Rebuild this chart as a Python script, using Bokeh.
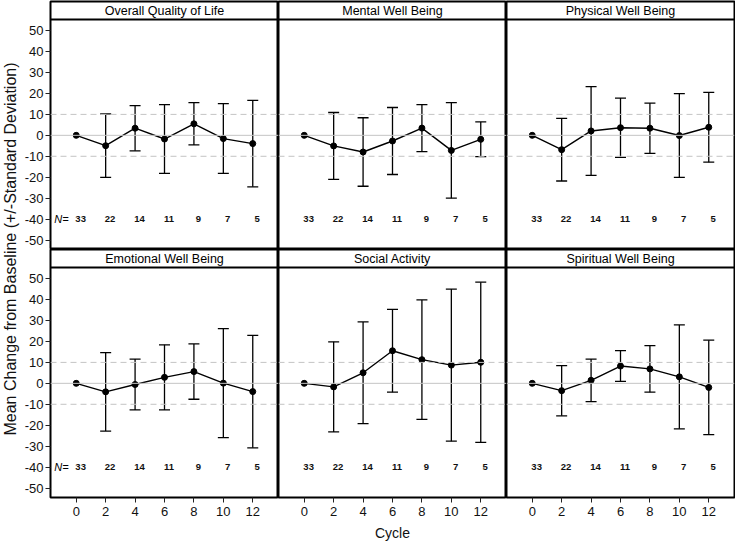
import math
from bokeh.plotting import figure
from bokeh.layouts import row, column
from bokeh.models import Range1d, FixedTicker, Span, Whisker, TeeHead, ColumnDataSource, Label
from bokeh.core.properties import value
from bokeh.embed import file_html
from bokeh.resources import INLINE

# ---------------- data ----------------
cycles = [0, 2, 4, 6, 8, 10, 12]
n_patients = [33, 22, 14, 11, 9, 7, 5]
y_ticks = [-50, -40, -30, -20, -10, 0, 10, 20, 30, 40, 50]
y_tick_labels = ["-50", "-40", "-30", "-20", "-10", "0", "10", "20", "30", "40", "50"]

panel_titles = ["Overall Quality of Life", "Mental Well Being", "Physical Well Being",
                "Emotional Well Being", "Social Activity", "Spiritual Well Being"]

overall_mean = [0, -4.95, 3.4, -1.75, 5.5, -1.55, -3.95]
overall_sd = [0, 15.15, 10.8, 16.45, 10.1, 16.65, 20.65]

mental_mean = [0, -5.05, -7.95, -2.7, 3.45, -7.2, -1.9]
mental_sd = [0, 15.95, 16.35, 16.0, 11.25, 22.8, 8.3]

physical_mean = [0, -6.85, 2.1, 3.65, 3.4, -0.1, 3.85]
physical_sd = [0, 14.95, 21.2, 14.15, 12.0, 20.0, 16.65]

emotional_mean = [0, -4.05, -0.55, 2.85, 5.6, 0.1, -3.95]
emotional_sd = [0, 18.75, 12.15, 15.55, 13.2, 26.0, 26.85]

social_mean = [0, -1.7, 5.05, 15.55, 11.3, 8.7, 10.05]
social_sd = [0, 21.5, 24.25, 19.75, 28.5, 36.3, 38.25]

spiritual_mean = [0, -3.5, 1.45, 8.25, 6.9, 3.1, -1.95]
spiritual_sd = [0, 12.0, 10.15, 7.35, 11.1, 24.8, 22.55]

panel_means = [overall_mean, mental_mean, physical_mean, emotional_mean, social_mean, spiritual_mean]
panel_sds = [overall_sd, mental_sd, physical_sd, emotional_sd, social_sd, spiritual_sd]

# ---------------- layout / style ----------------
FONT = "Liberation Sans"
X0, X1 = -1.75, 13.75
Y_BOT, Y_TOP = -54.5, 55.3
PLOT_H = 230
HDR_H = 18
FRAME_W = 228
UNIT = (Y_TOP - Y_BOT) / PLOT_H
Y_END = Y_TOP + HDR_H * UNIT
N_ROW_Y = -40
N_DX = 0.3
N_LABEL_X = -1.0
REF_COLOR = "#c4c4c4"
LABEL_W = 20
LEFT_B = 30
BOTTOM_B = 46


def make_panel(idx):
    col = idx % 3
    rw = idx // 3
    left = col == 0
    bottom = rw == 1
    bl = LEFT_B if left else 0
    br = 1 if col == 2 else 0
    bt = 1 if rw == 0 else 0
    bb = BOTTOM_B if bottom else 0
    p = figure(width=FRAME_W + bl + br, height=PLOT_H + HDR_H + bt + bb,
               x_range=Range1d(X0, X1), y_range=Range1d(Y_BOT, Y_END),
               x_axis_location="below" if bottom else None,
               y_axis_location="left" if left else None,
               output_backend="svg", toolbar_location=None,
               min_border_left=bl, min_border_right=br,
               min_border_top=bt, min_border_bottom=bb)
    p.xgrid.visible = False
    p.ygrid.visible = False
    p.outline_line_color = "black"
    p.outline_line_width = 2
    p.background_fill_color = "white"
    p.border_fill_color = "white"

    # reference lines
    p.add_layout(Span(location=0, dimension="width", line_color=REF_COLOR, line_width=1))
    for loc in (10, -10):
        p.add_layout(Span(location=loc, dimension="width", line_color=REF_COLOR,
                          line_width=1, line_dash="6 4"))

    # header
    p.add_layout(Span(location=Y_TOP, dimension="width", line_color="black", line_width=2))
    p.add_layout(Label(x=(X0 + X1) / 2, y=Y_TOP + HDR_H * UNIT / 2, text=panel_titles[idx],
                       text_align="center", text_baseline="middle",
                       text_font_size="12.5px", text_font=FONT, text_color="black"))

    means = panel_means[idx]
    sds = panel_sds[idx]
    wx = [c for c, s in zip(cycles, sds) if s > 0]
    wu = [m + s for m, s in zip(means, sds) if s > 0]
    wl = [m - s for m, s in zip(means, sds) if s > 0]
    wsrc = ColumnDataSource(dict(x=wx, upper=wu, lower=wl))
    p.add_layout(Whisker(base="x", upper="upper", lower="lower", source=wsrc,
                         line_color="black", line_width=1.3,
                         upper_head=TeeHead(size=11, line_color="black", line_width=1.3),
                         lower_head=TeeHead(size=11, line_color="black", line_width=1.3)))

    p.line(cycles, means, line_color="black", line_width=1.4)
    p.scatter(cycles, means, size=6, fill_color="black", line_color="black")

    p.text(x=[c + N_DX for c in cycles], y=[N_ROW_Y] * len(cycles),
           text=[str(n) for n in n_patients], text_font=value(FONT),
           text_font_size="9.5px", text_font_style="bold", text_align="center",
           text_baseline="middle", text_color="#111111")
    if left:
        p.text(x=[N_LABEL_X], y=[N_ROW_Y], text=["N="], text_font=value(FONT),
               text_font_size="11px", text_font_style="italic", text_align="center",
               text_baseline="middle", text_color="black")
        ax = p.yaxis[0]
        ax.ticker = FixedTicker(ticks=y_ticks)
        ax.major_label_overrides = {t: s for t, s in zip(y_ticks, y_tick_labels)}
        ax.axis_line_color = None
        ax.major_tick_out = 5
        ax.major_tick_in = 0
        ax.minor_tick_out = 0
        ax.minor_tick_in = 0
        ax.major_tick_line_color = "#222222"
        ax.major_label_standoff = 2
        ax.major_label_text_font = FONT
        ax.major_label_text_font_size = "13px"
        ax.major_label_text_color = "#111111"
    if bottom:
        ax = p.xaxis[0]
        ax.ticker = FixedTicker(ticks=cycles)
        ax.axis_line_color = None
        ax.major_tick_out = 5
        ax.major_tick_in = 0
        ax.minor_tick_out = 0
        ax.minor_tick_in = 0
        ax.major_tick_line_color = "#222222"
        ax.major_label_standoff = 4
        ax.major_label_text_font = FONT
        ax.major_label_text_font_size = "13px"
        ax.major_label_text_color = "#111111"
        if col == 1:
            ax.axis_label = "Cycle"
            ax.axis_label_standoff = 6
            ax.axis_label_text_font = FONT
            ax.axis_label_text_font_size = "14px"
            ax.axis_label_text_font_style = "normal"
            ax.axis_label_text_color = "#111111"
    return p


panels = [make_panel(i) for i in range(6)]

lab = figure(width=LABEL_W, height=2 * (PLOT_H + HDR_H) + 1,
             x_range=Range1d(0, 1), y_range=Range1d(0, 1),
             x_axis_location=None, y_axis_location=None,
             min_border=0, output_backend="svg", toolbar_location=None)
lab.grid.visible = False
lab.outline_line_color = None
lab.add_layout(Label(x=0.5, y=0.5, text="Mean Change from Baseline (+/-Standard Deviation)",
                     angle=math.pi / 2, text_align="center", text_baseline="middle",
                     text_font=FONT, text_font_size="16px", text_color="#111111"))

layout = row(lab, column(row(*panels[:3]), row(*panels[3:])))

open("out.html", "w").write(file_html(layout, INLINE))
